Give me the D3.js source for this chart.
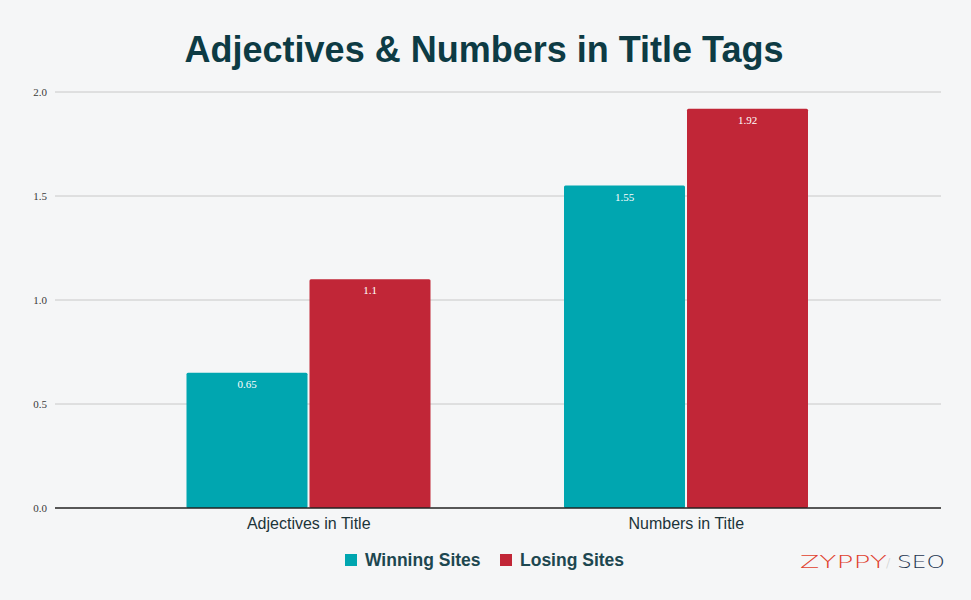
<!DOCTYPE html>
<html>
<head>
<meta charset="utf-8">
<script src="https://cdn.jsdelivr.net/npm/d3@7"></script>
<style>
  body { margin: 0; background: #f5f6f7; }
  svg { display: block; }
</style>
</head>
<body>
<svg id="chart" width="971" height="600"></svg>
<script>
// data
const categories = ['Adjectives in Title', 'Numbers in Title']
const seriesNames = ['Winning Sites', 'Losing Sites']
const winning = [0.65, 1.55]
const losing = [1.1, 1.92]
const yTicks = [0, 0.5, 1.0, 1.5, 2.0]

const colors = ['#00a6b0', '#c12637']

const svg = d3.select('#chart')
const W = 971, H = 600
const plot = {left: 55, right: 941, top: 92, bottom: 508}

svg.append('rect').attr('width', W).attr('height', H).attr('fill', '#f5f6f7')

const y = d3.scaleLinear().domain([0, 2]).range([plot.bottom, plot.top])
const x0 = d3.scaleBand().domain(categories).range([120, 875])
const x1 = d3.scaleBand().domain(seriesNames).range([66.5, 310.5]).paddingInner(2 / 123)

// grid
svg.append('g')
  .selectAll('line')
  .data(yTicks.filter(d => d > 0))
  .join('line')
  .attr('x1', plot.left).attr('x2', plot.right)
  .attr('y1', d => y(d)).attr('y2', d => y(d))
  .attr('stroke', '#c8c8c8').attr('stroke-width', 1)

// y labels
svg.append('g')
  .selectAll('text')
  .data(yTicks)
  .join('text')
  .attr('x', 47).attr('y', d => y(d) + 4)
  .attr('text-anchor', 'end')
  .attr('font-family', 'Liberation Serif, Times New Roman, serif')
  .attr('font-size', 11)
  .attr('fill', '#3a3a3a')
  .text(d => d3.format('.1f')(d))

// bars
const rows = categories.map((c, i) => ({cat: c, vals: [winning[i], losing[i]]}))
const groups = svg.append('g')
  .selectAll('g')
  .data(rows)
  .join('g')
  .attr('transform', d => 'translate(' + x0(d.cat) + ',0)')

groups.selectAll('rect')
  .data(d => d.vals.map((v, j) => ({v, s: seriesNames[j], j})))
  .join('rect')
  .attr('x', d => x1(d.s))
  .attr('y', d => y(d.v))
  .attr('width', x1.bandwidth())
  .attr('height', d => y(0) - y(d.v))
  .attr('rx', 1.5)
  .attr('fill', d => colors[d.j])

groups.selectAll('text.val')
  .data(d => d.vals.map((v, j) => ({v, s: seriesNames[j], j})))
  .join('text')
  .attr('class', 'val')
  .attr('x', d => x1(d.s) + x1.bandwidth() / 2)
  .attr('y', d => y(d.v) + 15)
  .attr('text-anchor', 'middle')
  .attr('font-family', 'Liberation Serif, Times New Roman, serif')
  .attr('font-size', 11)
  .attr('fill', '#ffffff')
  .text(d => String(d.v))

// baseline
svg.append('line')
  .attr('x1', plot.left).attr('x2', plot.right)
  .attr('y1', y(0)).attr('y2', y(0))
  .attr('stroke', '#222').attr('stroke-width', 1.3)

// category labels
svg.append('g')
  .selectAll('text')
  .data(categories)
  .join('text')
  .attr('x', d => x0(d) + x0.bandwidth() / 2)
  .attr('y', 529)
  .attr('text-anchor', 'middle')
  .attr('font-family', 'Liberation Sans, Arial, sans-serif')
  .attr('font-size', 16)
  .attr('fill', '#1c3439')
  .text(d => d)

// title
svg.append('text')
  .attr('x', 484).attr('y', 62)
  .attr('text-anchor', 'middle')
  .attr('font-family', 'Liberation Sans, Arial, sans-serif')
  .attr('font-weight', 'bold')
  .attr('font-size', 36)
  .attr('fill', '#0d3b44')
  .text('Adjectives & Numbers in Title Tags')

// legend
const legendX = [345, 500]
const legend = svg.append('g')
  .selectAll('g')
  .data(seriesNames)
  .join('g')
  .attr('transform', (d, i) => 'translate(' + legendX[i] + ',554)')
legend.append('rect')
  .attr('width', 12).attr('height', 12)
  .attr('fill', (d, i) => colors[i])
legend.append('text')
  .attr('x', 20).attr('y', 12)
  .attr('font-family', 'Liberation Sans, Arial, sans-serif')
  .attr('font-weight', 'bold')
  .attr('font-size', 17.5)
  .attr('fill', '#1d4750')
  .text(d => d)

// logo
const logoFont = 'DejaVu Sans, sans-serif'
svg.append('text')
  .attr('x', 800).attr('y', 568)
  .attr('font-family', logoFont).attr('font-weight', 200).attr('font-size', 17)
  .attr('textLength', 87).attr('lengthAdjust', 'spacingAndGlyphs')
  .attr('fill', '#e0402e')
  .text('ZYPPY')
svg.append('text')
  .attr('x', 886).attr('y', 567)
  .attr('font-family', logoFont).attr('font-weight', 200).attr('font-size', 13)
  .attr('fill', '#d0d0d0')
  .text('/')
svg.append('text')
  .attr('x', 897).attr('y', 568)
  .attr('font-family', logoFont).attr('font-weight', 200).attr('font-size', 17)
  .attr('textLength', 48).attr('lengthAdjust', 'spacingAndGlyphs')
  .attr('fill', '#1e3550')
  .text('SEO')
</script>
</body>
</html>
